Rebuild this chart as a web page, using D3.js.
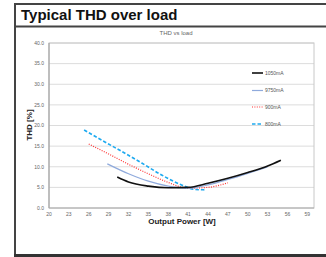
<!DOCTYPE html>
<html>
<head>
<meta charset="utf-8">
<script src="https://cdn.jsdelivr.net/npm/d3@7"></script>
<style>
  body { margin: 0; background: #fff; }
  svg { display: block; font-family: "Liberation Sans", Arial, sans-serif; }
  .tick-label { font-size: 5px; fill: #666; }
  .axisLabel { font-size: 8px; font-weight: bold; fill: #222; }
</style>
</head>
<body>
<div id="chart"></div>
<script>
// THD vs output power, one series per drive current
const xTicks = [20, 23, 26, 29, 32, 35, 38, 41, 44, 47, 50, 53, 56, 59];
const yTicks = [0, 5, 10, 15, 20, 25, 30, 35, 40];

const seriesNames = ["1050mA", "9750mA", "900mA", "800mA"];
const seriesColors = ["#111111", "#8faadc", "#ff3333", "#1eaaf0"];
const seriesDash = [null, null, "1,1.4", "3.5,2"];
const seriesWidth = [1.6, 1.2, 1.2, 1.6];

const power1050 = [30.3, 32, 35, 38, 41, 44, 47, 50, 53, 55];
const thd1050   = [7.5, 6.3, 5.3, 4.9, 5.0, 6.0, 7.2, 8.6, 10.2, 11.6];
const power975  = [28.8, 32, 35, 38, 41, 44, 47, 50, 53];
const thd975    = [10.7, 8.3, 6.5, 5.3, 4.8, 5.6, 6.9, 8.4, 10.0];
const power900  = [26, 29, 32, 35, 38, 41, 44, 47];
const thd900    = [15.5, 13.1, 10.6, 8.3, 6.2, 4.8, 5.0, 6.1];
const power800  = [25.3, 28, 31, 34, 37, 40, 42, 43.5];
const thd800    = [18.9, 16.4, 13.7, 10.9, 8.0, 5.6, 4.5, 4.4];

const powers = [power1050, power975, power900, power800];
const thds = [thd1050, thd975, thd900, thd800];

const width = 326, height = 257;
const margin = { top: 43, right: 12, bottom: 49, left: 49 };
const plot_width = width - margin.left - margin.right;
const plot_height = height - margin.top - margin.bottom;

const canvas = d3.select("#chart").append("svg")
  .attr("width", width).attr("height", height);

// outer frame + title
canvas.append("line").attr("x1", 15).attr("x2", 326).attr("y1", 4).attr("y2", 4)
  .attr("stroke", "#444").attr("stroke-width", 2);
canvas.append("line").attr("x1", 15).attr("x2", 326).attr("y1", 26.5).attr("y2", 26.5)
  .attr("stroke", "#444").attr("stroke-width", 2);
canvas.append("line").attr("x1", 15).attr("x2", 15).attr("y1", 3).attr("y2", 257)
  .attr("stroke", "#444").attr("stroke-width", 2);
canvas.append("line").attr("x1", 14).attr("x2", 326).attr("y1", 255.5).attr("y2", 255.5)
  .attr("stroke", "#333").attr("stroke-width", 3);

canvas.append("text")
  .attr("x", 21).attr("y", 20)
  .style("font-size", "15px").style("font-weight", "bold").style("fill", "#111")
  .text("Typical THD over load");

canvas.append("text")
  .attr("x", 176).attr("y", 35)
  .attr("text-anchor", "middle")
  .style("font-size", "6px").style("fill", "#666")
  .text("THD  vs load");

const plot = canvas.append("g")
  .attr("transform", `translate(${margin.left},${margin.top})`);

const xScale = d3.scaleLinear().domain([20, 60]).range([0, plot_width]);
const yScale = d3.scaleLinear().domain([0, 40]).range([plot_height, 0]);

// gridlines
plot.selectAll(".grid").data(yTicks.slice(1)).join("line")
  .attr("x1", 0).attr("x2", plot_width)
  .attr("y1", d => yScale(d)).attr("y2", d => yScale(d))
  .attr("stroke", "#dcdcdc").attr("stroke-width", 1);

plot.append("rect")
  .attr("width", plot_width).attr("height", plot_height)
  .attr("fill", "none").attr("stroke", "#c8c8c8").attr("stroke-width", 1);

plot.append("line")
  .attr("x1", 0).attr("x2", 0).attr("y1", 0).attr("y2", plot_height)
  .attr("stroke", "#999");
plot.append("line")
  .attr("x1", 0).attr("x2", plot_width).attr("y1", plot_height).attr("y2", plot_height)
  .attr("stroke", "#aaa");

// tick labels
plot.selectAll(".ytl").data(yTicks).join("text")
  .attr("class", "tick-label")
  .attr("x", -5).attr("y", d => yScale(d) + 1.8)
  .attr("text-anchor", "end")
  .text(d => d3.format(".1f")(d));

plot.selectAll(".xtl").data(xTicks).join("text")
  .attr("class", "tick-label")
  .attr("x", d => xScale(d)).attr("y", plot_height + 8)
  .attr("text-anchor", "middle")
  .text(d => d);

// axis labels
plot.append("text").attr("class", "axisLabel")
  .attr("x", 133).attr("y", plot_height + 16)
  .attr("text-anchor", "middle")
  .text("Output Power [W]");

plot.append("text").attr("class", "axisLabel")
  .attr("transform", "rotate(-90)")
  .attr("x", -82).attr("y", -17)
  .attr("text-anchor", "middle")
  .text("THD [%]");

// lines
const lineGen = d3.line()
  .x(d => xScale(d[0]))
  .y(d => yScale(d[1]))
  .curve(d3.curveMonotoneX);

const drawOrder = [3, 2, 1, 0];
drawOrder.forEach(i => {
  const pts = powers[i].map((p, j) => [p, thds[i][j]]);
  plot.append("path")
    .datum(pts)
    .attr("d", lineGen)
    .attr("fill", "none")
    .attr("stroke", seriesColors[i])
    .attr("stroke-width", seriesWidth[i])
    .attr("stroke-dasharray", seriesDash[i]);
});

// legend
const legendYs = [73, 90.5, 107, 124];
seriesNames.forEach((name, i) => {
  const g = canvas.append("g").attr("transform", `translate(252,${legendYs[i]})`);
  g.append("line").attr("x1", 0).attr("x2", 11).attr("y1", 0).attr("y2", 0)
    .attr("stroke", seriesColors[i])
    .attr("stroke-width", seriesWidth[i])
    .attr("stroke-dasharray", seriesDash[i]);
  g.append("text").attr("x", 13).attr("y", 1.8)
    .style("font-size", "5px").style("fill", "#555")
    .text(name);
});
</script>
</body>
</html>
